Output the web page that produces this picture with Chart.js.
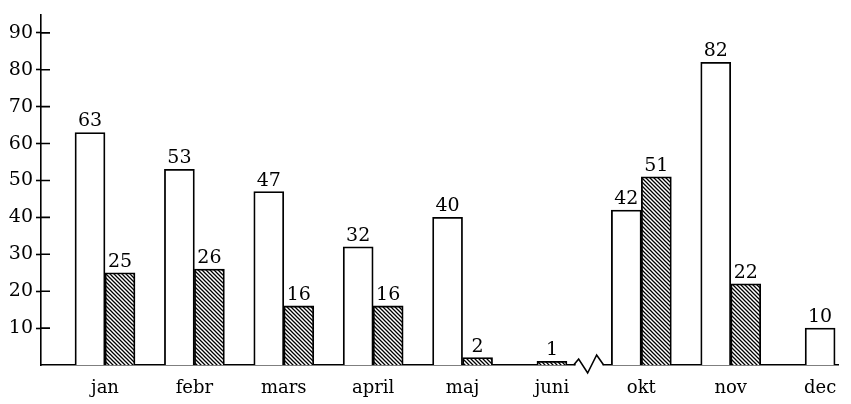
<!DOCTYPE html>
<html>
<head>
<meta charset="utf-8">
<script src="https://cdn.jsdelivr.net/npm/chart.js@4"></script>
<style>
  html, body { margin: 0; padding: 0; background: #fff; }
  #wrap { width: 851px; height: 404px; }
</style>
</head>
<body>
<div id="wrap"><canvas id="months"></canvas></div>
<script>
const months = ['jan', 'febr', 'mars', 'april', 'maj', 'juni', 'okt', 'nov', 'dec'];
const plainValues = [63, 53, 47, 32, 40, null, 42, 82, 10];
const hatchedValues = [25, 26, 16, 16, 2, 1, 51, 22, null];
const yTicks = [10, 20, 30, 40, 50, 60, 70, 80, 90];
const breakAfter = 'juni';

const ctx = document.getElementById('months').getContext('2d');

function makeHatch() {
  const c = document.createElement('canvas');
  c.width = 4; c.height = 4;
  const g = c.getContext('2d');
  g.fillStyle = '#fff';
  g.fillRect(0, 0, 4, 4);
  g.strokeStyle = '#000';
  g.lineWidth = 1.3;
  g.beginPath();
  g.moveTo(-1, -1); g.lineTo(5, 5);
  g.moveTo(-1, 3); g.lineTo(1, 5);
  g.moveTo(3, -1); g.lineTo(5, 1);
  g.stroke();
  return ctx.createPattern(c, 'repeat');
}

// numbers over the bars
const barValues = {
  id: 'barValues',
  afterDatasetsDraw(chart) {
    const c = chart.ctx;
    c.save();
    c.font = '19px "DejaVu Serif"';
    c.fillStyle = '#000';
    c.textAlign = 'center';
    c.textBaseline = 'alphabetic';
    chart.data.datasets.forEach((ds, d) => {
      chart.getDatasetMeta(d).data.forEach((bar, i) => {
        if (ds.data[i] == null) return;
        c.fillText(String(ds.data[i]), bar.x, bar.y - 6);
      });
    });
    c.restore();
  }
};

// tick marks crossing the y axis + the break mark on the baseline
const axisDecor = {
  id: 'axisDecor',
  afterDraw(chart) {
    const c = chart.ctx, x = chart.scales.x, y = chart.scales.y;
    c.save();
    c.strokeStyle = '#000';
    c.lineWidth = 1.6;
    c.beginPath();
    yTicks.forEach(v => {
      const py = y.getPixelForValue(v);
      c.moveTo(y.right, py);
      c.lineTo(y.right + 9, py);
    });
    c.stroke();

    const i = months.indexOf(breakAfter);
    const mid = (x.getPixelForValue(i) + x.getPixelForValue(i + 1)) / 2 - 7;
    const base = y.getPixelForValue(0);
    c.fillStyle = '#fff';
    c.fillRect(mid - 14, base - 2, 27, 4);
    c.beginPath();
    c.moveTo(mid - 16, base);
    c.lineTo(mid - 11, base - 6);
    c.lineTo(mid - 2, base + 8);
    c.lineTo(mid + 7, base - 10);
    c.lineTo(mid + 14, base);
    c.stroke();
    c.restore();
  }
};

new Chart(ctx, {
  type: 'bar',
  data: {
    labels: months.map((m, i) => i),
    datasets: [{
      label: 'plain',
      data: plainValues,
      backgroundColor: '#fff',
      borderColor: '#000',
      borderWidth: 1.8,
      barThickness: 30,
      skipNull: true
    }, {
      label: 'hatched',
      data: hatchedValues,
      backgroundColor: makeHatch(),
      borderColor: '#000',
      borderWidth: 1.8,
      barThickness: 30,
      skipNull: true
    }]
  },
  options: {
    responsive: true,
    maintainAspectRatio: false,
    animation: false,
    layout: { padding: { top: 4, right: 13, left: 0, bottom: 0 } },
    plugins: { legend: { display: false }, tooltip: { enabled: false } },
    scales: {
      x: {
        type: 'linear',
        offset: false,
        min: -0.716,
        max: 8.2,
        grid: { display: false, drawTicks: false },
        border: { display: true, color: '#000', width: 1.6 },
        afterBuildTicks: axis => { axis.ticks = months.map((m, i) => ({ value: i })); },
        afterFit: axis => { axis.height = 39; },
        ticks: {
          color: '#000',
          font: { family: 'DejaVu Serif', size: 18 },
          padding: 13,
          maxRotation: 0,
          autoSkip: false,
          callback: v => months[v]
        }
      },
      y: {
        min: 0,
        max: 95,
        afterBuildTicks: axis => { axis.ticks = yTicks.map(v => ({ value: v })); },
        afterFit: axis => { axis.width = 41; },
        grid: { drawOnChartArea: false, drawTicks: true, tickLength: 5, tickColor: '#000', tickWidth: 1.6 },
        border: { display: true, color: '#000', width: 1.6 },
        ticks: { color: '#000', font: { family: 'DejaVu Serif', size: 19 }, padding: 3 }
      }
    }
  },
  plugins: [barValues, axisDecor]
});
</script>
</body>
</html>
